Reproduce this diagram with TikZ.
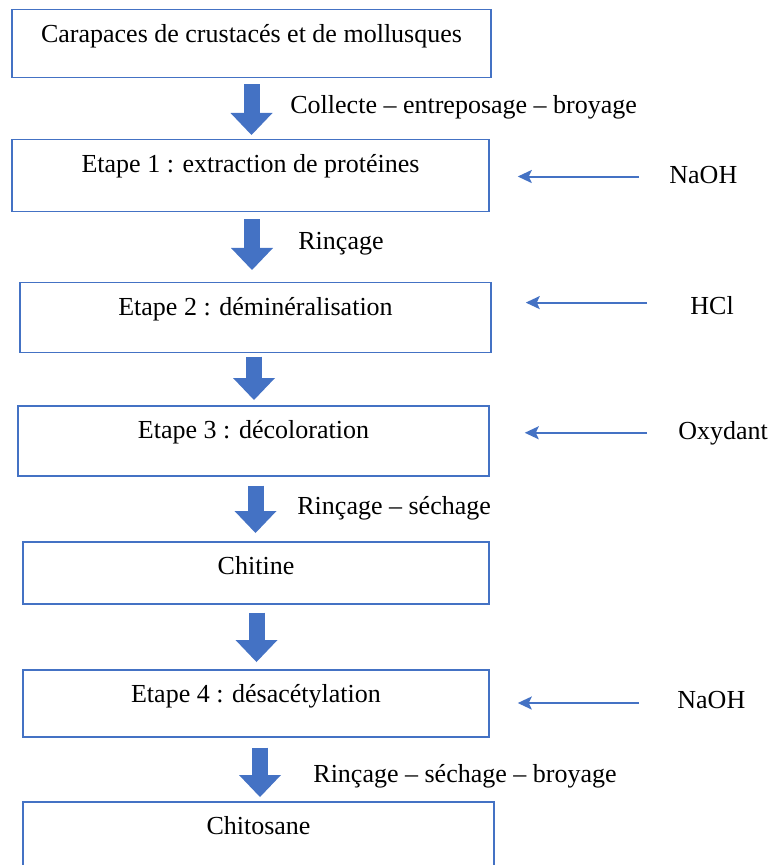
\documentclass[tikz,border=0pt]{standalone}
\usepackage{fontspec}
\setmainfont{Liberation Serif}
\usepackage{tikz}
\usetikzlibrary{calc}
\usetikzlibrary{positioning}
\usetikzlibrary{arrows.meta}

\definecolor{office}{RGB}{68,114,196}

\tikzset{
  stepbox/.style={draw=office, line width=0.75pt, anchor=north, inner xsep=0pt, inner ysep=0pt, text height=16.5pt},
  flow/.style={draw=office, line width=8pt, -{Triangle[width=21pt,length=11pt,line width=0pt]}},
  feed/.style={draw=office, line width=1pt, -{Stealth[length=7pt,width=6.5pt,inset=1.5pt]}},
  txt/.style={anchor=base west, inner sep=0pt}
}

\begin{document}
\begin{tikzpicture}[x=0.5pt,y=0.5pt,yscale=-1,xscale=1,font=\fontsize{13}{16}\selectfont]
            \clip (0,0) rectangle (771,865);

            %Shape: Rectangle [id:steps]
            \node[stepbox, minimum width=239.5pt, text depth=17.5pt] (b1) at (251.5,9) {Carapaces de crustacés et de mollusques};
            \node[stepbox, minimum width=238.5pt, text depth=19.5pt] (b2) at (250.5,139) {Etape 1 : extraction de protéines};
            \node[stepbox, minimum width=235.5pt, text depth=18.5pt] (b3) at (255.5,282) {Etape 2 : déminéralisation};
            \node[stepbox, minimum width=235.5pt, text depth=18.5pt] (b4) at (253.5,405) {Etape 3 : décoloration};
            \node[stepbox, minimum width=233pt, text depth=14.5pt] (b5) at (256,541) {Chitine};
            \node[stepbox, minimum width=233pt, text depth=17pt] (b6) at (256,669) {Etape 4 : désacétylation};
            \node[stepbox, minimum width=235.5pt, text depth=40pt] (b7) at (258.5,801) {Chitosane};

            %Block Arrows [id:flow]
            \draw[flow] ($(b1.south)+(0,6)$) -- ($(b1.south |- b2.north)+(0,-4)$);
            \draw[flow] ($(b2.south)+(1.5,7)$) -- ($(b2.south |- b3.north)+(1.5,-12)$);
            \draw[flow] ($(b3.south)+(-1.5,3)$) -- ($(b3.south |- b4.north)+(-1.5,-5)$);
            \draw[flow] ($(b4.south)+(2,9)$) -- ($(b4.south |- b5.north)+(2,-8)$);
            \draw[flow] ($(b5.south)+(0.5,8)$) -- ($(b5.south |- b6.north)+(0.5,-7)$);
            \draw[flow] ($(b6.south)+(4,10)$) -- ($(b6.south |- b7.north)+(4,-4)$);

            % Text Node
            \node[txt] (l1) at (290,114) {Collecte – entreposage – broyage};
            % Text Node
            \node[txt] (l2) at (298,250) {Rinçage};
            % Text Node
            \node[txt] (l4) at (297,514) {Rinçage – séchage};
            % Text Node
            \node[txt] (l6) at (313,782) {Rinçage – séchage – broyage};

            % Text Node
            \node[txt] (r1) at (669,184) {NaOH};
            % Text Node
            \node[txt] (r2) at (690,315) {HCl};
            % Text Node
            \node[txt] (r3) at (678,439) {Oxydant};
            % Text Node
            \node[txt] (r4) at (677,708) {NaOH};

            %Straight Lines [id:feed]
            \draw[feed] ($(r1.west)+(-30,1)$) -- ($(b2.east |- r1.west)+(28,1)$);
            \draw[feed] ($(r2.west)+(-43,-3.5)$) -- ($(b3.east |- r2.west)+(34,-3.5)$);
            \draw[feed] ($(r3.west)+(-31,0)$) -- ($(b4.east |- r3.west)+(35,0)$);
            \draw[feed] ($(r4.west)+(-38,3.5)$) -- ($(b6.east |- r4.west)+(28,3.5)$);

\end{tikzpicture}
\end{document}
